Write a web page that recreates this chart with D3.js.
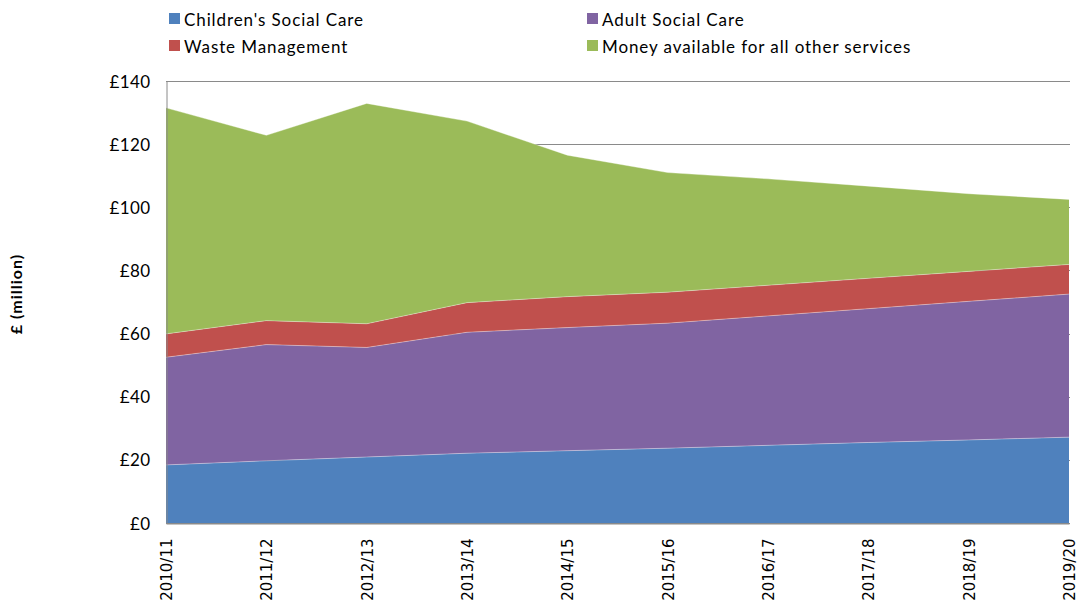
<!DOCTYPE html>
<html>
<head>
<meta charset="utf-8">
<script src="https://cdn.jsdelivr.net/npm/d3@7"></script>
<style>
	body { margin: 0; background: #fff; }
	svg { display: block; }
	.legend text { font-family: Lato, "Open Sans", sans-serif; font-size: 17px; letter-spacing: 0.9px; fill: #000; }
	.yaxis text { font-family: Lato, "Open Sans", sans-serif; font-size: 17px; letter-spacing: 0.4px; fill: #000; }
	.xaxis text { font-family: "DejaVu Sans", sans-serif; font-size: 15px; fill: #000; }
</style>
</head>
<body>
<script>
// years along the x axis
var years = ["2010/11", "2011/12", "2012/13", "2013/14", "2014/15",
	"2015/16", "2016/17", "2017/18", "2018/19", "2019/20"];

// series values, £ million
var childrens = [18.4, 19.7, 20.9, 22.1, 22.9, 23.7, 24.6, 25.5, 26.3, 27.2];
var adult = [34.1, 36.8, 34.7, 38.3, 39.0, 39.6, 41.0, 42.4, 43.9, 45.3];
var waste = [7.4, 7.6, 7.5, 9.4, 9.8, 9.8, 9.7, 9.6, 9.5, 9.4];
var other = [71.6, 58.7, 69.8, 57.5, 44.8, 37.9, 33.7, 29.2, 24.6, 20.6];

var seriesNames = ["Children's Social Care", "Adult Social Care",
	"Waste Management", "Money available for all other services"];
var seriesKeys = ["childrens", "adult", "waste", "other"];
var colours = ["#4F81BD", "#8064A2", "#C0504D", "#9BBB59"];

var yTicks = [0, 20, 40, 60, 80, 100, 120, 140];

window.onload = drawChart();

function drawChart(){

	var width = 1082,
	height = 610;

	var plot = {left: 166, right: 1069, top: 81, bottom: 523};

	var svg = d3.select("body")
		.append("svg")
		.attr("width", width)
		.attr("height", height);

	// build rows for the stack
	var rows = years.map(function(y, i){
		return {year: y, childrens: childrens[i], adult: adult[i], waste: waste[i], other: other[i]};
	});

	var stacked = d3.stack().keys(seriesKeys)(rows);

	var x = d3.scalePoint()
		.domain(years)
		.range([plot.left, plot.right]);

	var y = d3.scaleLinear()
		.domain([0, 140])
		.range([plot.bottom, plot.top]);

	// gridlines
	svg.append("g")
		.selectAll("line")
		.data(yTicks)
		.enter()
		.append("line")
		.attr("x1", plot.left)
		.attr("x2", plot.right + 1)
		.attr("y1", function(d){ return Math.round(y(d)) + 0.5; })
		.attr("y2", function(d){ return Math.round(y(d)) + 0.5; })
		.attr("stroke", "#8a8a8a")
		.attr("stroke-width", 1);

	// stacked areas
	var area = d3.area()
		.x(function(d){ return x(d.data.year); })
		.y0(function(d){ return y(d[0]); })
		.y1(function(d){ return y(d[1]); });

	svg.append("g")
		.selectAll("path")
		.data(stacked)
		.enter()
		.append("path")
		.attr("d", area)
		.attr("fill", function(d, i){ return colours[i]; });

	// faint light edges between the bands
	var edge = d3.line()
		.x(function(d){ return x(d.data.year); })
		.y(function(d){ return y(d[1]); });

	svg.append("g")
		.selectAll("path")
		.data(stacked)
		.enter()
		.append("path")
		.attr("d", edge)
		.attr("fill", "none")
		.attr("stroke", "#ffffff")
		.attr("stroke-opacity", 0.35)
		.attr("stroke-width", 1);

	// y axis
	var yAxis = d3.axisLeft(y)
		.tickValues(yTicks)
		.tickSize(0)
		.tickPadding(16)
		.tickFormat(function(d){ return "£" + d; });

	var yg = svg.append("g")
		.attr("class", "yaxis")
		.attr("transform", "translate(" + (plot.left + 0.5) + ",0)")
		.call(yAxis);
	yg.select(".domain").attr("stroke", "#8a8a8a");
	yg.selectAll("text").attr("dy", "0.36em");

	// x axis
	var xAxis = d3.axisBottom(x)
		.tickSize(0)
		.tickPadding(0);

	var xg = svg.append("g")
		.attr("class", "xaxis")
		.attr("transform", "translate(0," + (plot.bottom + 0.5) + ")")
		.call(xAxis);
	xg.select(".domain").attr("stroke", "#8a8a8a");
	xg.selectAll("text")
		.attr("text-anchor", "end")
		.attr("transform", "rotate(-90)")
		.attr("x", -15)
		.attr("y", 0)
		.attr("dy", "0.36em");

	// axis title
	svg.append("text")
		.attr("transform", "translate(22,294) rotate(-90)")
		.attr("text-anchor", "middle")
		.style("font-family", "Lato, 'Open Sans', sans-serif")
		.style("font-size", "16px")
		.style("font-weight", "bold")
		.style("letter-spacing", "1px")
		.text("£ (million)");

	// legend
	var legendPos = [[169, 26], [587, 26], [169, 53], [587, 53]];

	var legend = svg.append("g")
		.attr("class", "legend")
		.selectAll("g")
		.data(seriesNames)
		.enter()
		.append("g")
		.attr("transform", function(d, i){
			return "translate(" + legendPos[i][0] + "," + legendPos[i][1] + ")";
		});

	legend.append("rect")
		.attr("x", 0)
		.attr("y", -13)
		.attr("width", 11)
		.attr("height", 11)
		.attr("fill", function(d, i){ return colours[i]; });

	legend.append("text")
		.attr("x", 15)
		.attr("y", 0)
		.text(function(d){ return d; });
};
</script>
</body>
</html>
